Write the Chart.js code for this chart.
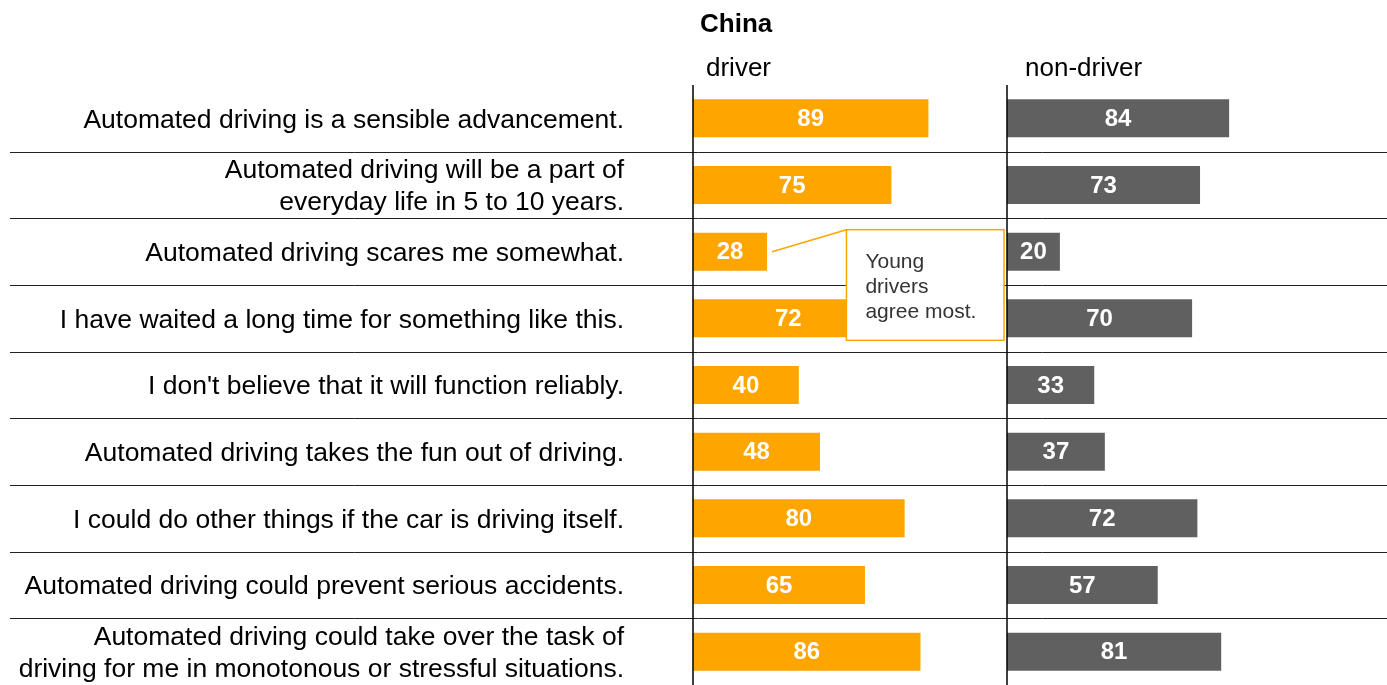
<!DOCTYPE html>
<html>
<head>
<meta charset="utf-8">
<script src="https://cdn.jsdelivr.net/npm/chart.js@4/dist/chart.umd.min.js"></script>
<style>
  body { margin: 0; background: #fff; }
  #wrap { width: 1387px; height: 685px; }
</style>
</head>
<body>
<div id="wrap"><canvas id="mychart" width="1387" height="685"></canvas></div>
<script>
const categories = [
  "Automated driving is a sensible advancement.",
  ["Automated driving will be a part of", "everyday life in 5 to 10 years."],
  "Automated driving scares me somewhat.",
  "I have waited a long time for something like this.",
  "I don't believe that it will function reliably.",
  "Automated driving takes the fun out of driving.",
  "I could do other things if the car is driving itself.",
  "Automated driving could prevent serious accidents.",
  ["Automated driving could take over the task of", "driving for me in monotonous or stressful situations."]
];
const driverValues = [89, 75, 28, 72, 40, 48, 80, 65, 86];
const nonDriverValues = [84, 73, 20, 70, 33, 37, 72, 57, 81];
const panelTitles = ["driver", "non-driver"];
const chartTitle = "China";
const calloutText = ["Young", "drivers", "agree most."];

const FONT = '"Liberation Sans", Arial, sans-serif';
const ORANGE = "#FFA500";
const GREY = "#606060";

const decor = {
  id: 'decor',
  beforeDatasetsDraw(chart) {
    const { ctx, scales: { y } } = chart;
    ctx.save();
    ctx.strokeStyle = '#222';
    ctx.lineWidth = 1;
    for (let i = 1; i < categories.length; i++) {
      const yy = Math.round((y.getPixelForValue(i - 1) + y.getPixelForValue(i)) / 2) + 0.5;
      ctx.beginPath();
      ctx.moveTo(10, yy);
      ctx.lineTo(chart.width, yy);
      ctx.stroke();
    }
    ctx.restore();
  },
  afterDatasetsDraw(chart) {
    const { ctx, scales: { x, x2, y }, chartArea } = chart;
    ctx.save();

    // value labels
    ctx.fillStyle = '#fff';
    ctx.font = 'bold 24px ' + FONT;
    ctx.textAlign = 'center';
    ctx.textBaseline = 'middle';
    chart.data.datasets.forEach((ds, di) => {
      chart.getDatasetMeta(di).data.forEach((el, i) => {
        ctx.fillText(ds.data[i], (el.x + el.base) / 2, el.y + 1);
      });
    });

    // vertical axis lines
    ctx.strokeStyle = '#000';
    ctx.lineWidth = 1.5;
    [x.left, x2.left].forEach(px => {
      ctx.beginPath();
      ctx.moveTo(px, chartArea.top);
      ctx.lineTo(px, chart.height);
      ctx.stroke();
    });

    // headers
    ctx.fillStyle = '#000';
    ctx.textAlign = 'left';
    ctx.font = 'bold 26px ' + FONT;
    ctx.fillText(chartTitle, x.left + 7, 25);
    ctx.font = '26px ' + FONT;
    ctx.fillText(panelTitles[0], x.left + 13, 69);
    ctx.fillText(panelTitles[1], x2.left + 18, 69);

    // callout
    const bar = chart.getDatasetMeta(0).data[2];
    const bl = x.getPixelForValue(58);
    const br = x.right - 3;
    const bt = y.getPixelForValue(2) - 22;
    const bb = y.getPixelForValue(3) + 22;
    ctx.strokeStyle = ORANGE;
    ctx.lineWidth = 1.5;
    ctx.beginPath();
    ctx.moveTo(bar.x + 5, bar.y);
    ctx.lineTo(bl, bt);
    ctx.stroke();
    ctx.fillStyle = '#fff';
    ctx.fillRect(bl, bt, br - bl, bb - bt);
    ctx.strokeRect(bl, bt, br - bl, bb - bt);
    ctx.fillStyle = '#333';
    ctx.font = '21px ' + FONT;
    calloutText.forEach((t, i) => ctx.fillText(t, bl + 19, bt + 33 + i * 25));

    ctx.restore();
  }
};

new Chart(document.getElementById("mychart"), {
  type: 'bar',
  data: {
    labels: categories,
    datasets: [{
      label: panelTitles[0],
      data: driverValues,
      backgroundColor: ORANGE,
      xAxisID: 'x',
      grouped: false,
      barPercentage: 0.57,
      categoryPercentage: 1
    }, {
      label: panelTitles[1],
      data: nonDriverValues,
      backgroundColor: GREY,
      xAxisID: 'x2',
      grouped: false,
      barPercentage: 0.57,
      categoryPercentage: 1
    }]
  },
  options: {
    indexAxis: 'y',
    responsive: false,
    animation: false,
    layout: { padding: { top: 85, left: 0, right: 0, bottom: 0 } },
    plugins: {
      legend: { display: false },
      tooltip: { enabled: false }
    },
    scales: {
      x: {
        position: 'bottom',
        stack: 'panels',
        stackWeight: 314,
        min: 0,
        max: 118.7,
        display: false
      },
      x2: {
        position: 'bottom',
        stack: 'panels',
        stackWeight: 380,
        min: 0,
        max: 143.7,
        display: false
      },
      y: {
        type: 'category',
        grid: { display: false, drawTicks: true, tickLength: 69 },
        border: { display: false },
        ticks: {
          autoSkip: false,
          color: '#000',
          padding: 0,
          labelOffset: 2,
          font: { family: FONT, size: 26.5 }
        },
        afterFit(scale) {
          scale.width = 693;
          scale.paddingTop = 0;
          scale.paddingBottom = 0;
        }
      }
    }
  },
  plugins: [decor]
});
</script>
</body>
</html>
